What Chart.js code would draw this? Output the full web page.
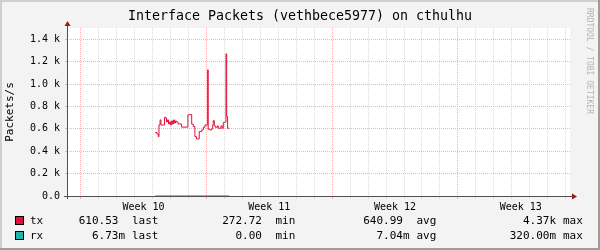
<!DOCTYPE html>
<html>
<head>
    <title>Interface Packets (vethbece5977) on cthulhu</title>
    <script src="https://cdn.jsdelivr.net/npm/chart.js"></script>
    <style>
        body {
            margin: 0;
            background-color: #f3f3f3;
        }

        #packetChart {
            display: block;
        }
    </style>
</head>
<body>
    <canvas id="packetChart" width="600" height="250"></canvas>

    <script>
        // x values are days counted from the start of week 10
        const weekLabels = ['Week 10', 'Week 11', 'Week 12', 'Week 13'];

        const txDays = [4.15, 4.25, 4.32, 4.36, 4.42, 4.47, 4.67, 4.72, 4.78, 4.83, 4.89, 4.94,
            5.00, 5.05, 5.11, 5.17, 5.22, 5.28, 5.33, 5.42, 5.62, 5.97, 6.05, 6.18,
            6.27, 6.36, 6.45, 6.60, 6.74, 6.83, 6.92, 7.07, 7.10, 7.20, 7.29, 7.35,
            7.38, 7.44, 7.50, 7.61, 7.66, 7.81, 7.88, 7.94, 8.03, 8.09, 8.13, 8.18, 8.27];
        const txValues = [566, 554, 530, 634, 679, 634, 703, 697, 661, 679, 643, 661,
            634, 670, 643, 679, 652, 670, 661, 643, 615, 724, 727, 641,
            620, 530, 509, 575, 590, 614, 634, 1126, 596, 590, 600, 634,
            673, 626, 614, 626, 605, 626, 605, 655, 660, 1269, 709, 605, 605];

        const rxDays = [4.15, 4.8, 5.5, 6.2, 6.9, 7.6, 8.27];
        const rxValues = [0.0067, 0.0071, 0.0075, 0.0068, 0.0072, 0.0070, 0.0067];

        const yTickLabels = ['0.0', '0.2 k', '0.4 k', '0.6 k', '0.8 k', '1.0 k', '1.2 k', '1.4 k'];

        const seriesNames = ['tx', 'rx'];
        const seriesColors = ['#e0103c', '#1fb5a8'];
        const statNames = ['last', 'min', 'avg', 'max'];
        const txStats = ['610.53 ', '272.72 ', '640.99 ', '4.37k'];
        const rxStats = ['6.73m', '0.00 ', '7.04m', '320.00m'];

        const mono = '"DejaVu Sans Mono", monospace';

        // frame, title, legend and axes in the rrdtool look
        const rrdLook = {
            id: 'rrdLook',
            beforeDraw(chart) {
                const ctx = chart.ctx;
                const a = chart.chartArea;
                ctx.save();
                ctx.fillStyle = '#f3f3f3';
                ctx.fillRect(0, 0, 600, 250);
                ctx.fillStyle = '#cfcfcf';
                ctx.fillRect(0, 0, 600, 2);
                ctx.fillRect(0, 0, 2, 250);
                ctx.fillStyle = '#9c9c9c';
                ctx.fillRect(598, 0, 2, 250);
                ctx.fillRect(0, 248, 600, 2);
                ctx.fillStyle = '#ffffff';
                ctx.fillRect(a.left, a.top, a.right - a.left, a.bottom - a.top);
                ctx.restore();
            },
            beforeDatasetsDraw(chart) {
                const ctx = chart.ctx;
                const a = chart.chartArea;
                ctx.save();
                ctx.strokeStyle = '#505050';
                ctx.lineWidth = 1;
                ctx.beginPath();
                ctx.moveTo(a.left - 3, Math.round(a.bottom) + 0.5);
                ctx.lineTo(a.right + 3, Math.round(a.bottom) + 0.5);
                ctx.moveTo(Math.round(a.left) + 0.5, a.bottom + 3);
                ctx.lineTo(Math.round(a.left) + 0.5, a.top - 2);
                ctx.stroke();
                ctx.fillStyle = '#a01818';
                const bx = Math.round(a.left) + 0.5;
                ctx.beginPath();
                ctx.moveTo(bx, a.top - 7);
                ctx.lineTo(bx + 3, a.top - 2);
                ctx.lineTo(bx - 3, a.top - 2);
                ctx.closePath();
                ctx.fill();
                const by = Math.round(a.bottom) + 0.5;
                ctx.beginPath();
                ctx.moveTo(a.right + 7, by);
                ctx.lineTo(a.right + 2, by - 3);
                ctx.lineTo(a.right + 2, by + 3);
                ctx.closePath();
                ctx.fill();
                ctx.restore();
            },
            afterDraw(chart) {
                const ctx = chart.ctx;
                ctx.save();
                ctx.fillStyle = '#000000';
                ctx.font = '13.3px ' + mono;
                ctx.textAlign = 'center';
                ctx.textBaseline = 'middle';
                ctx.fillText('Interface Packets (vethbece5977) on cthulhu', 300, 17);

                // legend rows
                const statCols = [125, 268.5, 409.5, 556];
                const rows = [txStats, rxStats];
                ctx.font = '11px ' + mono;
                rows.forEach((stats, r) => {
                    const y = 221 + r * 15;
                    ctx.fillStyle = seriesColors[r];
                    ctx.fillRect(15, y - 4, 8, 8);
                    ctx.strokeStyle = '#000000';
                    ctx.lineWidth = 1;
                    ctx.strokeRect(15.5, y - 4.5, 8, 8);
                    ctx.fillStyle = '#000000';
                    ctx.textAlign = 'left';
                    ctx.fillText(seriesNames[r], 30, y);
                    stats.forEach((s, i) => {
                        ctx.textAlign = 'right';
                        ctx.fillText(s, statCols[i], y);
                        ctx.textAlign = 'left';
                        ctx.fillText(statNames[i], statCols[i] + 7, y);
                    });
                });

                // vertical watermark
                ctx.translate(589, 8);
                ctx.rotate(Math.PI / 2);
                ctx.font = '8px ' + mono;
                ctx.fillStyle = '#b4b4b4';
                ctx.textAlign = 'left';
                ctx.fillText('RRDTOOL / TOBI OETIKER', 0, 0);
                ctx.restore();
            }
        };

        function gridColor(isMajor, hide) {
            if (hide) return 'rgba(0,0,0,0)';
            return isMajor ? '#f6b0b0' : '#d9d9d9';
        }

        const xGrid = (c) => gridColor(c.tick && c.tick.value % 7 === 0, !c.tick || c.tick.value % 1 !== 0);
        const yGrid = (c) => gridColor(c.tick && c.tick.value % 200 === 0, !c.tick || c.tick.value === 0);

        const ctx = document.getElementById('packetChart').getContext('2d');
        new Chart(ctx, {
            type: 'line',
            data: {
                datasets: [{
                    label: 'tx',
                    data: txDays.map((d, i) => ({ x: d, y: txValues[i] })),
                    borderColor: seriesColors[0],
                    borderWidth: 1,
                    pointRadius: 0,
                    stepped: true,
                    fill: false
                }, {
                    label: 'rx',
                    data: rxDays.map((d, i) => ({ x: d, y: rxValues[i] })),
                    borderColor: '#1a8078',
                    borderWidth: 1,
                    pointRadius: 0,
                    stepped: true,
                    fill: false
                }]
            },
            options: {
                responsive: false,
                animation: false,
                layout: { padding: { left: 0, right: 30, top: 28, bottom: 0 } },
                plugins: {
                    legend: { display: false },
                    tooltip: { enabled: false },
                    title: { display: false }
                },
                scales: {
                    x: {
                        type: 'linear',
                        min: -0.76,
                        max: 27.24,
                        afterBuildTicks: (scale) => {
                            const t = [];
                            for (let d = 0; d <= 27; d++) t.push({ value: d });
                            weekLabels.forEach((w, i) => t.push({ value: i * 7 + 3.5 }));
                            t.sort((p, q) => p.value - q.value);
                            scale.ticks = t;
                        },
                        afterFit: (scale) => { scale.height = 54; },
                        grid: {
                            drawTicks: true,
                            tickLength: 3,
                            color: xGrid,
                            tickColor: xGrid
                        },
                        border: { display: false, dash: [1, 1] },
                        ticks: {
                            autoSkip: false,
                            maxRotation: 0,
                            padding: 2,
                            color: '#000000',
                            font: { family: mono, size: 10 },
                            callback: (v) => v % 1 !== 0 ? weekLabels[Math.floor(v / 7)] : ''
                        }
                    },
                    y: {
                        min: 0,
                        max: 1500,
                        afterFit: (scale) => { scale.width = 67; },
                        grid: {
                            drawTicks: true,
                            tickLength: 2,
                            color: yGrid,
                            tickColor: yGrid
                        },
                        border: { display: false, dash: [1, 1] },
                        ticks: {
                            stepSize: 100,
                            padding: 5,
                            color: '#000000',
                            font: { family: mono, size: 10 },
                            callback: (v) => v % 200 === 0 ? yTickLabels[v / 200] : ''
                        },
                        title: {
                            display: true,
                            text: 'Packets/s',
                            color: '#000000',
                            font: { family: mono, size: 11 },
                            padding: { top: 4, bottom: 0 }
                        }
                    }
                }
            },
            plugins: [rrdLook]
        });
    </script>
</body>
</html>
